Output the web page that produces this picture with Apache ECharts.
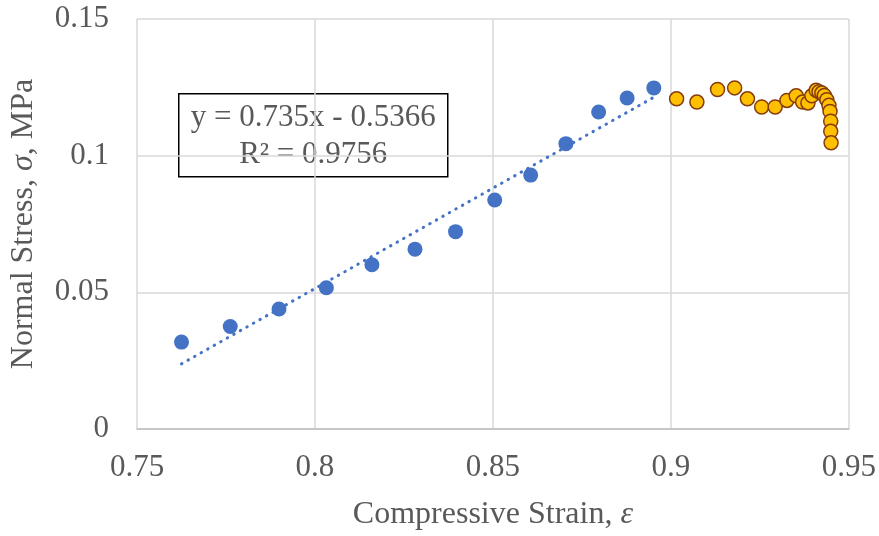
<!DOCTYPE html>
<html>
<head>
<meta charset="utf-8">
<script src="https://cdn.jsdelivr.net/npm/echarts@6/dist/echarts.min.js"></script>
<style>
html,body{margin:0;padding:0;background:#fff;}
#chart{width:879px;height:536px;}
</style>
</head>
<body>
<div id="chart"></div>
<script>
// ---- data ----
var fitStrain   = [0.7625, 0.7762, 0.7899, 0.8032, 0.8160, 0.8281, 0.8395, 0.8505, 0.8606, 0.8705, 0.8797, 0.8877, 0.8952];
var fitStress   = [0.0318, 0.0375, 0.0439, 0.0517, 0.0601, 0.0658, 0.0722, 0.0838, 0.0929, 0.1044, 0.1160, 0.1211, 0.1248];
var postStrain  = [0.9016, 0.9073, 0.9131, 0.9179, 0.9215, 0.9255, 0.9293, 0.9326, 0.9352, 0.9370, 0.9385, 0.9396, 0.9408, 0.9416, 0.9424, 0.9431, 0.9438, 0.9444, 0.9447, 0.9449, 0.9449, 0.9450];
var postStress  = [0.1208, 0.1196, 0.1242, 0.1248, 0.1208, 0.1178, 0.1178, 0.1202, 0.1219, 0.1196, 0.1193, 0.1219, 0.1239, 0.1234, 0.1229, 0.1220, 0.1205, 0.1184, 0.1162, 0.1126, 0.1089, 0.1047];
var trendCoef   = [0.735, -0.5366];   // slope, intercept (as printed on chart)
var trendR2     = [0.9756];
var xTicks      = [0.75, 0.8, 0.85, 0.9, 0.95];
var yTicks      = [0, 0.05, 0.1, 0.15];

// ---- build series data ----
function zip(a, b) { var r = []; for (var i = 0; i < a.length; i++) r.push([a[i], b[i]]); return r; }
function tidy(v) { return String(+(+v).toFixed(4)); }
var xMinFit = Math.min.apply(null, fitStrain), xMaxFit = Math.max.apply(null, fitStrain);
var trendData = [
  [xMinFit, trendCoef[0] * xMinFit + trendCoef[1]],
  [xMaxFit, trendCoef[0] * xMaxFit + trendCoef[1]]
];
var eqText = 'y = ' + trendCoef[0] + 'x - ' + Math.abs(trendCoef[1]) + '\nR\u00B2 = ' + trendR2[0];

var FONT = "'Liberation Serif', 'Times New Roman', serif";
var TXT = '#595959';

var chart = echarts.init(document.getElementById('chart'), null, {renderer: 'canvas'});
chart.setOption({
  animation: false,
  backgroundColor: '#ffffff',
  grid: {left: 133, right: 30, top: 19, bottom: 105.5},
  xAxis: {
    type: 'value',
    min: xTicks[0], max: xTicks[xTicks.length - 1],
    interval: +(xTicks[1] - xTicks[0]).toFixed(4),
    name: 'Compressive Strain, {i|\u03B5}',
    nameLocation: 'middle', nameGap: 70,
    nameTextStyle: {fontFamily: FONT, fontSize: 32, color: TXT,
      rich: {i: {fontFamily: FONT, fontSize: 32, color: TXT, fontStyle: 'italic'}}},
    axisLine: {show: true, lineStyle: {color: '#bfbfbf', width: 1.5}},
    axisTick: {show: false},
    axisLabel: {fontFamily: FONT, fontSize: 31, color: TXT, margin: 23, formatter: tidy},
    splitLine: {show: true, lineStyle: {color: '#d9d9d9', width: 1.5}}
  },
  yAxis: {
    type: 'value',
    min: yTicks[0], max: yTicks[yTicks.length - 1],
    interval: +(yTicks[1] - yTicks[0]).toFixed(4),
    name: 'Normal Stress, {i|\u03C3}, MPa',
    nameLocation: 'middle', nameGap: 97,
    nameTextStyle: {fontFamily: FONT, fontSize: 32, color: TXT,
      rich: {i: {fontFamily: FONT, fontSize: 32, color: TXT, fontStyle: 'italic'}}},
    axisLine: {show: false},
    axisTick: {show: false},
    axisLabel: {fontFamily: FONT, fontSize: 31, color: TXT, margin: 28, formatter: tidy},
    splitLine: {show: true, lineStyle: {color: '#d9d9d9', width: 1.5}}
  },
  series: [
    {
      name: 'Linear region', type: 'scatter', data: zip(fitStrain, fitStress),
      symbol: 'circle', symbolSize: 15,
      itemStyle: {color: '#4472c4', opacity: 1}, z: 2
    },
    {
      name: 'Post-peak', type: 'scatter', data: zip(postStrain, postStress),
      symbol: 'circle', symbolSize: 14,
      itemStyle: {color: '#ffc000', borderColor: '#843c0c', borderWidth: 1.5, opacity: 1}, z: 2
    },
    {
      name: 'Linear trend', type: 'line', data: trendData,
      symbol: 'none', silent: true,
      lineStyle: {color: '#4472c4', width: 3, type: [0.5, 7], cap: 'round'}, z: 3
    }
  ],
  graphic: [{
    type: 'group', left: 178, top: 93,
    children: [
      {type: 'rect', shape: {x: 0, y: 0, width: 269, height: 83},
       style: {fill: '#ffffff', stroke: '#000000', lineWidth: 1.5}},
      {type: 'text', x: 134.5, y: 43,
       style: {text: eqText, fontFamily: FONT, fontSize: 31, fill: TXT,
               align: 'center', verticalAlign: 'middle', lineHeight: 37}}
    ]
  }]
});
</script>
</body>
</html>
